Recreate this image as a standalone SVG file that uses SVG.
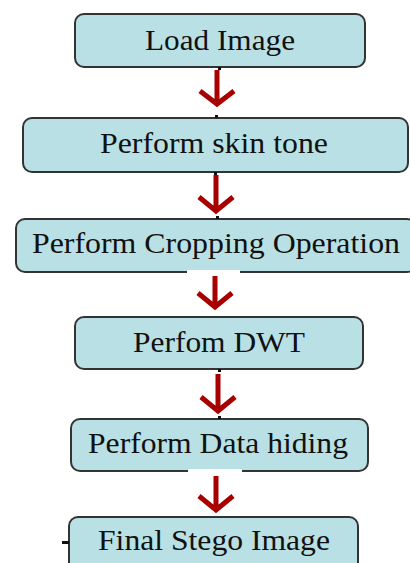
<svg xmlns="http://www.w3.org/2000/svg" width="410" height="563" viewBox="0 0 410 563">
<style>
.box{fill:#b9e0e4;stroke:#333;stroke-width:2}
.t{font-family:'Liberation Serif','DejaVu Serif','Times New Roman',serif;font-size:29px;fill:#111;text-anchor:middle}
.arr{fill:none;stroke:#a80000;stroke-width:5;stroke-linejoin:miter}
.dot{fill:#111}
</style>
<rect width="410" height="563" fill="#fff"/>
<g id="n1"><rect class="box" x="75" y="14" width="290" height="53" rx="9"/><text class="t" font-family="Liberation Serif, DejaVu Serif, serif" x="220" y="50" textLength="150" lengthAdjust="spacingAndGlyphs">Load Image</text></g>
<g id="n2"><rect class="box" x="23" y="118" width="385" height="54" rx="9"/><text class="t" font-family="Liberation Serif, DejaVu Serif, serif" x="214" y="153" textLength="228" lengthAdjust="spacingAndGlyphs">Perform skin tone</text></g>
<g id="n3"><rect class="box" x="16" y="219" width="400" height="53" rx="9"/><text class="t" font-family="Liberation Serif, DejaVu Serif, serif" x="216" y="253" textLength="368" lengthAdjust="spacingAndGlyphs">Perform Cropping Operation</text></g>
<g id="n4"><rect class="box" x="75" y="317" width="288" height="52" rx="9"/><text class="t" font-family="Liberation Serif, DejaVu Serif, serif" x="219" y="352" textLength="172" lengthAdjust="spacingAndGlyphs">Perfom DWT</text></g>
<g id="n5"><rect class="box" x="71" y="419" width="297" height="52" rx="9"/><text class="t" font-family="Liberation Serif, DejaVu Serif, serif" x="218" y="453" textLength="260" lengthAdjust="spacingAndGlyphs">Perform Data hiding</text></g>
<g id="n6"><rect class="box" x="69" y="517" width="289" height="60" rx="9"/><text class="t" font-family="Liberation Serif, DejaVu Serif, serif" x="214" y="550" textLength="232" lengthAdjust="spacingAndGlyphs">Final Stego Image</text></g>
<g id="connectors">
<rect x="187" y="270" width="53" height="4" fill="#fff"/>
<rect x="188" y="469" width="54" height="4" fill="#fff"/>
<rect class="dot" x="218" y="67" width="3" height="3"/>
<rect class="dot" x="215" y="115" width="3" height="3"/>
<rect class="dot" x="214" y="172" width="3" height="3"/>
<rect class="dot" x="216" y="216" width="3" height="3"/>
<rect class="dot" x="218" y="369" width="3" height="3"/>
<rect class="dot" x="218" y="416" width="3" height="3"/>
<rect class="dot" x="62" y="541" width="7" height="3"/>
<path class="arr" d="M217 70V103M200 91L217 104L234 91"/>
<path class="arr" d="M216 175V210M199 197L216 211L233 197"/>
<path class="arr" d="M215 276V307M198 293L215 307L232 293"/>
<path class="arr" d="M218 374V411M201 397L218 411L235 397"/>
<path class="arr" d="M216 476V509M199 496L216 510L233 496"/>
</g>
</svg>
